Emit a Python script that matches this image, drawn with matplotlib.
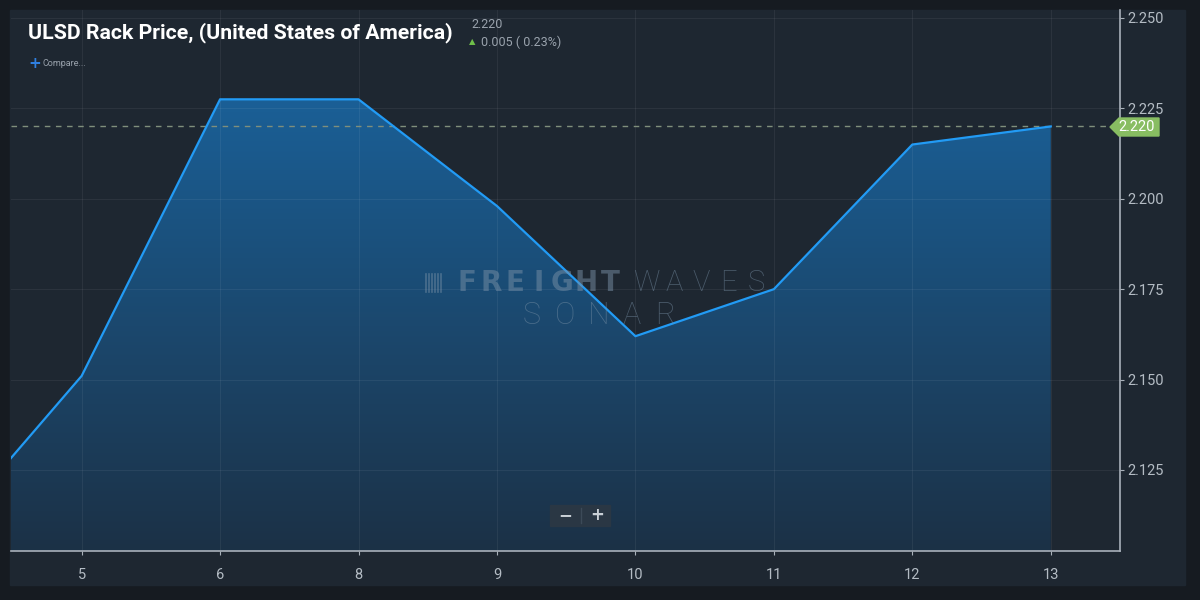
import numpy as np
import matplotlib.pyplot as plt
from matplotlib.patches import Rectangle, Polygon
from matplotlib.colors import LinearSegmentedColormap

# weekly ULSD rack price, first value is the point just left of the view
tick_labels = ["5", "6", "8", "9", "10", "11", "12", "13"]
prices = [2.1065, 2.151, 2.2275, 2.2275, 2.198, 2.162, 2.175, 2.215, 2.220]
last_price = 2.220
change = "0.005 ( 0.23%)"
y_ticks = [2.125, 2.150, 2.175, 2.200, 2.225, 2.250]

x = np.arange(len(prices)) - 1

W, H = 1200, 600
fig = plt.figure(figsize=(12, 6), dpi=100, facecolor="#161b21")

def fx(px):
    return px / W

def fy(py):
    return 1 - py / H

# panel
fig.patches.append(Rectangle((fx(10), fy(585)), fx(1175), (585 - 10) / H,
                             transform=fig.transFigure, color="#1e2731", zorder=-5))

ax = fig.add_axes([fx(11), fy(551), fx(1120 - 11), (551 - 10) / H])
ax.set_zorder(1)
ax.set_facecolor("#1e2731")

# gradient fill under the line
cmap = LinearSegmentedColormap.from_list("fill", ["#1c3146", "#1a629b"])
grad = np.linspace(0, 1, 256).reshape(-1, 1)
img = ax.imshow(grad, extent=[x[0], x[-1], 2.1026, 2.235], origin="lower",
                aspect="auto", cmap=cmap, zorder=1)
poly = Polygon(list(zip(x, prices)) + [(x[-1], 2.1026), (x[0], 2.1026)],
               closed=True, transform=ax.transData, facecolor="none", edgecolor="none")
ax.add_patch(poly)
img.set_clip_path(poly)
ax.set_xlim(-0.51, 7.5)
ax.set_ylim(2.1026, 2.2522)

ax.plot(x, prices, color="#229bf5", lw=1.6, zorder=3)

ax.axhline(last_price, color="#7f8f7c", lw=1, ls=(0, (4, 4)), zorder=2)

ax.set_xticks(range(len(tick_labels)))
ax.set_xticklabels(tick_labels)
ax.set_yticks(y_ticks)
ax.set_yticklabels([f"{v:.3f}" for v in y_ticks])
ax.yaxis.tick_right()
ax.grid(True, color="white", alpha=0.06, lw=0.8)
for s in ["top", "left"]:
    ax.spines[s].set_visible(False)
for s in ["right", "bottom"]:
    ax.spines[s].set_color("#a9b1ba")
    ax.spines[s].set_linewidth(1.2)
ax.tick_params(colors="#a9b1ba", labelcolor="#b4bcc4", labelsize=10.5, length=3, width=0.8)
ax.tick_params(axis="x", pad=9)
ax.tick_params(axis="y", pad=2)
for lab in ax.get_xticklabels() + ax.get_yticklabels():
    lab.set_family("Roboto")

# last price marker on the axis
mx, my = 1110, 127
marker = Polygon([(fx(mx), fy(my)), (fx(mx + 9), fy(my - 9)), (fx(1159), fy(my - 9)),
                  (fx(1159), fy(my + 9)), (fx(mx + 9), fy(my + 9))],
                 closed=True, transform=fig.transFigure, color="#88bd62", zorder=5)
fig.patches.append(marker)
fig.text(fx(1137), fy(my), f"{last_price:.3f}", color="white", fontsize=10.5,
         family="Roboto", ha="center", va="center", zorder=6)

# title block
fig.text(fx(28), fy(33), "ULSD Rack Price, (United States of America)", color="white",
         fontsize=15.3, fontweight="bold", family="Roboto", va="center")
fig.text(fx(471), fy(24), f"{last_price:.3f}", color="#9aa3ad", fontsize=9,
         family="Roboto", va="center")
fig.text(fx(469), fy(42), "▲", color="#6fbf4a", fontsize=6, family="DejaVu Sans", va="center")
fig.text(fx(481), fy(42), change, color="#9aa3ad", fontsize=9, family="Roboto", va="center")
fig.text(fx(28), fy(64), "+", color="#2f7fe0", fontsize=11, fontweight="bold",
         family="DejaVu Sans", va="center")
fig.text(fx(42), fy(64), "Compare...", color="#9aa3ad", fontsize=6.5, family="Roboto",
         va="center")

# watermark, spaced letter by letter
wm = "#7890a6"

def spaced(word, x0, x1, y, **kw):
    step = (x1 - x0) / len(word)
    for i, ch in enumerate(word):
        fig.text(fx(x0 + step * (i + 0.5)), fy(y), ch, ha="center", va="center",
                 zorder=2, **kw)

spaced("FREIGHT", 455, 622, 283, color=wm, alpha=0.5, fontsize=20,
       fontweight="heavy", family="DejaVu Sans")
spaced("WAVES", 633, 770, 283, color=wm, alpha=0.5, fontsize=21,
       fontweight="light", family="Roboto")
spaced("SONAR", 515, 682, 315, color=wm, alpha=0.5, fontsize=22,
       fontweight="light", family="Roboto")
for i in range(6):
    fig.lines.append(plt.Line2D([fx(426 + i * 3), fx(426 + i * 3)], [fy(274), fy(292)],
                                transform=fig.transFigure, color=wm, alpha=0.5, lw=1.2,
                                zorder=2))

# zoom buttons
fig.patches.append(Rectangle((fx(550), fy(526)), fx(60), 21 / H, transform=fig.transFigure,
                             color="#2a3744", zorder=5))
fig.lines.append(plt.Line2D([fx(581), fx(581)], [fy(508), fy(523)], transform=fig.transFigure,
                            color="#3c4a58", lw=1, zorder=6))
fig.text(fx(565), fy(515), "−", color="#c9d0d6", fontsize=12, fontweight="bold",
         family="DejaVu Sans", ha="center", va="center", zorder=7)
fig.text(fx(597), fy(515), "+", color="#c9d0d6", fontsize=12, fontweight="bold",
         family="DejaVu Sans", ha="center", va="center", zorder=7)

fig.savefig("out.png", dpi=100, facecolor=fig.get_facecolor())
